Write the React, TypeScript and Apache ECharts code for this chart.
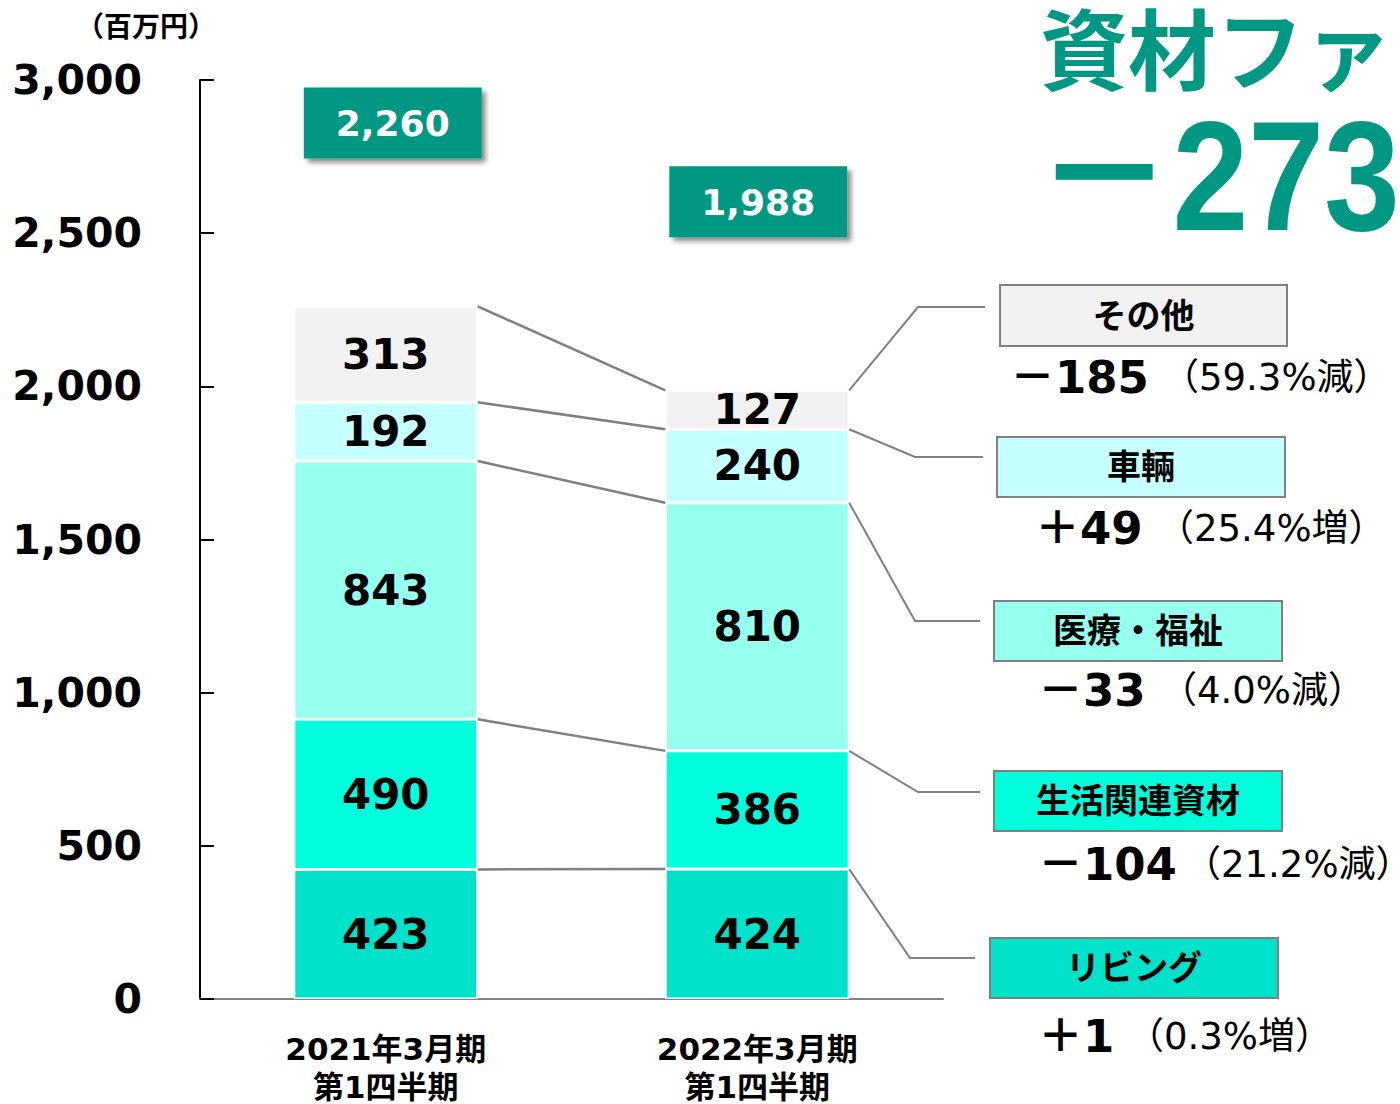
import { useEffect, useRef } from 'react';
import * as echarts from 'echarts';

// ---------- data ----------
const categories = ['2021年3月期\n第1四半期', '2022年3月期\n第1四半期'];
const segmentNames = ['リビング', '生活関連資材', '医療・福祉', '車輛', 'その他']; // bottom -> top
const values2021 = [423, 490, 843, 192, 313];
const values2022 = [424, 386, 810, 240, 127];
const totals = [2260, 1988];
const changeValues = ['＋1', '－104', '－33', '＋49', '－185'];
const changeRates = ['（0.3%増）', '（21.2%減）', '（4.0%減）', '（25.4%増）', '（59.3%減）'];
const unitLabel = '（百万円）';
const titleText = '資材ファブリック';
const totalChangeText = '－273';
const yMin = 0;
const yMax = 3000;
const yInterval = 500;

// ---------- styles / layout ----------
const W = 1400;
const H = 1104;
const FONT = "'DejaVu Sans', 'Noto Sans CJK JP', sans-serif";
const TEAL = '#009882';
const segmentColors = ['#00E2C9', '#00FFDD', '#96FFEE', '#C6FFFF', '#F2F2F2'];
const BAR_RATIO = 0.495;
const GRID = { left: 200, right: 457, top: 80, bottom: 105 };
const totalLabelOffsets = [[7, 2], [1, -3]];
// callout layout per segment (bottom -> top)
const calloutLayout = [
  { ex: 910, ey: 958, endX: 975, bx: 990, by: 938, bw: 288, bh: 60, rowY: 1036, numX: 1038, rateX: 1127 },
  { ex: 918, ey: 792, endX: 980, bx: 994, by: 771, bw: 288, bh: 60, rowY: 864, numX: 1038, rateX: 1184 },
  { ex: 915, ey: 621, endX: 980, bx: 994, by: 601, bw: 288, bh: 60, rowY: 690, numX: 1038, rateX: 1160 },
  { ex: 915, ey: 457, endX: 983, bx: 997, by: 437, bw: 288, bh: 60, rowY: 528, numX: 1035, rateX: 1157 },
  { ex: 918, ey: 307, endX: 985, bx: 1000, by: 285, bw: 287, bh: 61, rowY: 377, numX: 1010, rateX: 1162 },
];

const cumulative = (arr: number[]) => {
  let s = 0;
  return arr.map((v) => (s += v));
};

export default function App() {
  const ref = useRef<HTMLDivElement>(null);
  useEffect(() => {
    if (!ref.current) return;
    const chart = echarts.init(ref.current, undefined, { renderer: 'svg', width: W, height: H });
    const cum2021 = cumulative(values2021);
    const cum2022 = cumulative(values2022);

    const barSeries = segmentNames.map((name, i) => ({
      name,
      type: 'bar',
      stack: 'total',
      barWidth: `${BAR_RATIO * 100}%`,
      data: [values2021[i], values2022[i]],
      itemStyle: { color: segmentColors[i], borderColor: '#ffffff', borderWidth: 1.5 },
      label: {
        show: true,
        position: 'inside',
        color: '#000',
        fontFamily: FONT,
        fontWeight: 'bold',
        fontSize: 42,
      },
      z: 2,
    }));

    const totalSeries = {
      name: '合計',
      type: 'bar',
      stack: 'total',
      data: totals.map((_, i) => ({ value: 0, label: { offset: totalLabelOffsets[i] } })),
      itemStyle: { color: 'transparent', borderWidth: 0 },
      label: {
        show: true,
        position: 'top',
        distance: 150,
        formatter: (p: any) => totals[p.dataIndex].toLocaleString('en-US'),
        color: '#fff',
        fontFamily: FONT,
        fontWeight: 'bold',
        fontSize: 36,
        lineHeight: 36,
        backgroundColor: TEAL,
        padding: [18, 32, 17, 32],
        shadowColor: 'rgba(0,0,0,0.45)',
        shadowBlur: 5,
        shadowOffsetX: 4,
        shadowOffsetY: 4,
      },
      z: 3,
    };

    const connectorSeries = {
      name: 'connectors',
      type: 'custom',
      silent: true,
      clip: false,
      data: cum2021.map((v) => [0, v]),
      renderItem: (params: any, api: any) => {
        const i = params.dataIndex;
        const bw = api.size([1, 0])[0] * BAR_RATIO;
        const a = api.coord([0, cum2021[i]]);
        const b = api.coord([1, cum2022[i]]);
        return {
          type: 'line',
          shape: { x1: a[0] + bw / 2, y1: a[1], x2: b[0] - bw / 2, y2: b[1] },
          style: { stroke: '#7F7F7F', lineWidth: 2.5 },
        };
      },
      z: 4,
    };

    const calloutSeries = {
      name: 'callouts',
      type: 'custom',
      silent: true,
      clip: false,
      data: cum2022.map((v) => [1, v]),
      renderItem: (params: any, api: any) => {
        const i = params.dataIndex;
        const L = calloutLayout[i];
        const bw = api.size([1, 0])[0] * BAR_RATIO;
        const p = api.coord([1, cum2022[i]]);
        return {
          type: 'polyline',
          shape: { points: [[p[0] + bw / 2, p[1]], [L.ex, L.ey], [L.endX, L.ey]] },
          style: { stroke: '#7F7F7F', lineWidth: 2, fill: 'none' },
        };
      },
      z: 4,
    };

    const graphics: any[] = [
      {
        type: 'text',
        x: 1040,
        y: 44,
        style: {
          text: titleText,
          font: `bold 88px 'Noto Sans CJK JP', sans-serif`,
          fill: TEAL,
          verticalAlign: 'middle',
          align: 'left',
        },
      },
      {
        type: 'text',
        x: 1036,
        y: 176,
        scaleX: 0.88,
        style: {
          text: totalChangeText,
          font: `bold 155px 'Liberation Sans', 'Noto Sans CJK JP', sans-serif`,
          fill: TEAL,
          verticalAlign: 'middle',
          align: 'left',
        },
      },
      {
        type: 'text',
        x: 146,
        y: 27,
        style: {
          text: unitLabel,
          font: `bold 28px ${FONT}`,
          fill: '#000',
          verticalAlign: 'middle',
          align: 'center',
        },
      },
    ];

    segmentNames.forEach((name, i) => {
      const L = calloutLayout[i];
      graphics.push({
        type: 'rect',
        shape: { x: L.bx, y: L.by, width: L.bw, height: L.bh },
        style: { fill: segmentColors[i], stroke: '#808080', lineWidth: 2 },
      });
      graphics.push({
        type: 'text',
        x: L.bx + L.bw / 2,
        y: L.by + L.bh / 2,
        style: {
          text: name,
          font: `bold 34px ${FONT}`,
          fill: '#000',
          align: 'center',
          verticalAlign: 'middle',
        },
      });
      graphics.push({
        type: 'text',
        x: L.numX,
        y: L.rowY,
        style: {
          text: changeValues[i],
          font: `bold 45px ${FONT}`,
          fill: '#000',
          align: 'left',
          verticalAlign: 'middle',
        },
      });
      graphics.push({
        type: 'text',
        x: L.rateX,
        y: L.rowY,
        style: {
          text: changeRates[i],
          font: `37px ${FONT}`,
          fill: '#000',
          align: 'left',
          verticalAlign: 'middle',
        },
      });
    });

    chart.setOption({
      animation: false,
      backgroundColor: '#ffffff',
      grid: { ...GRID, containLabel: false, outerBoundsMode: 'none' },
      xAxis: {
        type: 'category',
        data: categories,
        axisLine: { show: true, lineStyle: { color: '#808080', width: 2 } },
        axisTick: { show: false },
        axisLabel: {
          color: '#000',
          fontFamily: FONT,
          fontWeight: 'bold',
          fontSize: 31,
          lineHeight: 38,
          margin: 31,
        },
      },
      yAxis: {
        type: 'value',
        min: yMin,
        max: yMax,
        interval: yInterval,
        axisLine: { show: true, lineStyle: { color: '#000', width: 2 } },
        axisTick: { show: true, inside: true, length: 14, lineStyle: { color: '#000', width: 2 } },
        splitLine: { show: false },
        axisLabel: {
          color: '#000',
          fontFamily: FONT,
          fontWeight: 'bold',
          fontSize: 41,
          margin: 58,
          formatter: (v: number) => v.toLocaleString('en-US'),
        },
      },
      series: [...barSeries, totalSeries, connectorSeries, calloutSeries],
      graphic: graphics,
    });
    return () => chart.dispose();
  }, []);
  return (
    <div
      ref={ref}
      style={{ position: 'absolute', left: 0, top: 0, width: W, height: H, background: '#fff' }}
    />
  );
}
